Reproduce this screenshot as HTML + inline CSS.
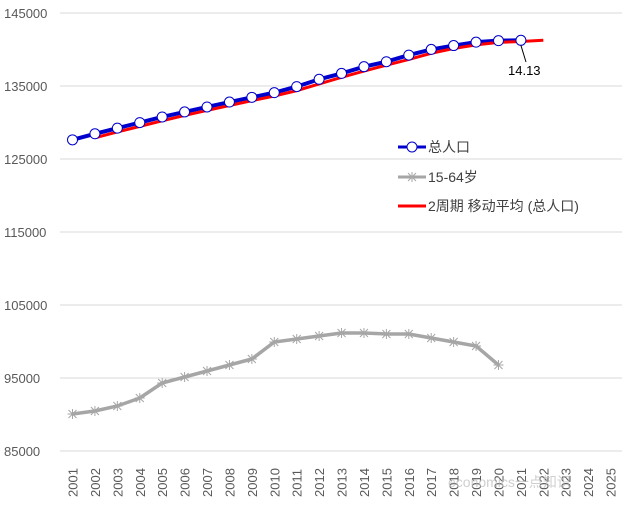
<!DOCTYPE html>
<html><head><meta charset="utf-8"><style>
body{margin:0;background:#fff}
svg text{font-family:"Liberation Sans","Noto Sans CJK SC",sans-serif}
</style></head><body>
<svg id="c" width="627" height="510" xmlns="http://www.w3.org/2000/svg"></svg>
<script>
const s=document.getElementById('c');let h='';
const Y=v=>451-(v-85000)/10000*73, X=i=>72.5+i*22.42;
[145000,135000,125000,115000,105000,95000,85000].forEach(v=>{const y=Y(v);
h+=`<line x1="60" x2="622" y1="${y}" y2="${y}" stroke="#d9d9d9" stroke-width="1"/>`;
h+=`<text x="4" y="${y+5}" font-size="13" fill="#595959">${v}</text>`;});
for(let i=0;i<25;i++){const x=X(i)+5;h+=`<text transform="translate(${x},497) rotate(-90)" font-size="13" fill="#595959">${2001+i}</text>`;}
const tot=[127627,128453,129227,129988,130756,131448,132129,132802,133450,134091,134916,135922,136726,137646,138326,139232,140011,140541,141008,141212,141260];
const gy=[414,411,406,398,383,377,371,365,359,342,339,336,333,333,334,334,338,342,346,365];
let gp=gy.map((y,i)=>`${X(i)},${y}`).join(' ');
h+=`<polyline points="${gp}" fill="none" stroke="#a6a6a6" stroke-width="3.5"/>`;
gy.forEach((y,i)=>{const x=X(i);h+=`<path d="M${x-5},${y}h10M${x},${y-5}v10M${x-4},${y-4}l8,8M${x+4},${y-4}l-8,8" stroke="#a6a6a6" stroke-width="1"/>`;});
let bp=tot.map((v,i)=>`${X(i)},${Y(v)}`).join(' ');
h+=`<polyline points="${bp}" fill="none" stroke="#0000cc" stroke-width="4"/>`;
let rp=[];for(let i=1;i<tot.length;i++)rp.push(`${X(i)},${Y((tot[i]+tot[i-1])/2)+1}`);rp.push(`${X(21)},${Y(141260)}`);
h+=`<polyline points="${rp.join(' ')}" fill="none" stroke="#ff0000" stroke-width="3"/>`;
tot.forEach((v,i)=>{h+=`<circle cx="${X(i)}" cy="${Y(v)}" r="5" fill="#fff" stroke="#0000cc" stroke-width="1"/>`;});
h+=`<line x1="${X(20)}" y1="${Y(141260)+5}" x2="526" y2="62" stroke="#000" stroke-width="1"/>`;
h+=`<text x="508" y="75" font-size="13" fill="#000">14.13</text>`;
h+=`<line x1="398" x2="426" y1="147" y2="147" stroke="#0000cc" stroke-width="3"/><circle cx="412" cy="147" r="5" fill="#fff" stroke="#0000cc"/>`;
h+=`<text x="428" y="152" font-size="14" fill="#404040">总人口</text>`;
h+=`<line x1="398" x2="426" y1="177" y2="177" stroke="#a6a6a6" stroke-width="3"/><path d="M407,177h10M412,172v10M408,173l8,8M416,173l-8,8" stroke="#a6a6a6"/>`;
h+=`<text x="428" y="182" font-size="14" fill="#404040">15-64岁</text>`;
h+=`<line x1="398" x2="426" y1="206" y2="206" stroke="#ff0000" stroke-width="3"/>`;
h+=`<text x="428" y="211" font-size="14" fill="#404040">2周期 移动平均 (总人口)</text>`;
h+=`<text x="448" y="487" font-size="14" fill="#bbb" opacity="0.7">economics一点知识</text>`;
s.innerHTML=h;
</script>
</body></html>
